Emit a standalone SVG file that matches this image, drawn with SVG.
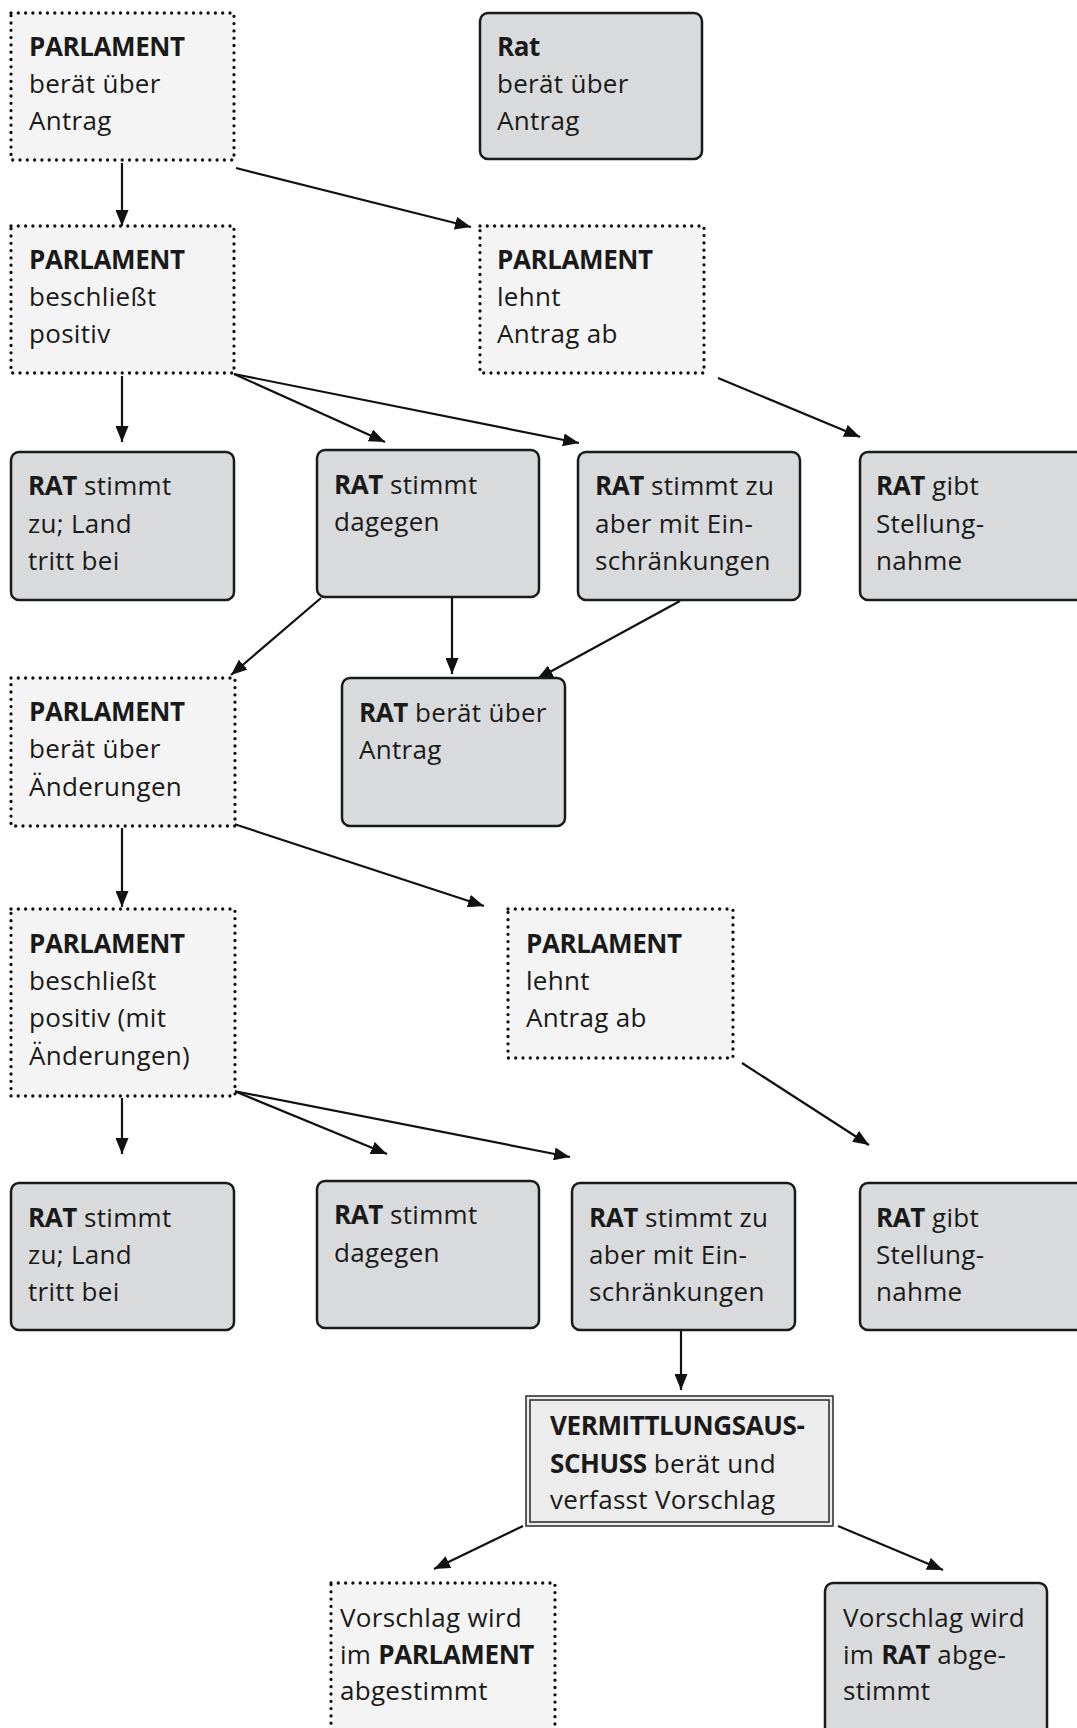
<svg xmlns="http://www.w3.org/2000/svg" width="1077" height="1728" viewBox="0 0 1077 1728">
<defs>
<style>
.t{font-family:"Open Sans","Noto Sans",sans-serif;font-size:26px;fill:#1a1a1a;letter-spacing:0.3px}
.b{font-weight:700;letter-spacing:-0.4px}
.dot{fill:#f4f4f4;stroke:#111;stroke-width:3.3;stroke-dasharray:0 7.3;stroke-linecap:round}
.rat{fill:#d9dadc;stroke:#1a1a1a;stroke-width:2.5}
.vo{fill:#ebeceb;stroke:#333;stroke-width:1.6}
.vi{fill:none;stroke:#333;stroke-width:1.6}
.c path{fill:none;stroke:#111;stroke-width:2.2;marker-end:url(#ah)}
</style>
<marker id="ah" markerUnits="userSpaceOnUse" markerWidth="16" markerHeight="13" refX="16" refY="6.5" orient="auto">
<path d="M0,0 L16,6.5 L0,13 z" fill="#111"/>
</marker>
</defs>
<rect width="1077" height="1728" fill="#fff"/>

<g class="c" id="connectors">
<path d="M122,163 L122,226"/>
<path d="M236,168 L471,227"/>
<path d="M122,376 L122,442"/>
<path d="M234,374 L385,442"/>
<path d="M234,374 L579,443"/>
<path d="M718,378 L860,437"/>
<path d="M321,598 L231,675"/>
<path d="M452,597 L452,674"/>
<path d="M680,601 L537,679"/>
<path d="M122,828 L122,907"/>
<path d="M234,824 L484,906"/>
<path d="M122,1098 L122,1154"/>
<path d="M234,1091 L387,1154"/>
<path d="M234,1091 L570,1157"/>
<path d="M742,1063 L869,1145"/>
<path d="M681,1331 L681,1390"/>
<path d="M523,1526 L434,1569"/>
<path d="M838,1526 L943,1570"/>
</g>

<g id="p1"><rect class="dot" x="11" y="13" width="223" height="147"/>
<text class="t" x="29" y="56"><tspan class="b">PARLAMENT</tspan></text>
<text class="t" x="29" y="93">berät über</text>
<text class="t" x="29" y="130">Antrag</text></g>

<g id="rat0"><rect class="rat" x="480" y="13" width="222" height="146" rx="8"/>
<text class="t" x="497" y="56"><tspan class="b">Rat</tspan></text>
<text class="t" x="497" y="93">berät über</text>
<text class="t" x="497" y="130">Antrag</text></g>

<g id="p2"><rect class="dot" x="11" y="226" width="223" height="147"/>
<text class="t" x="29" y="269"><tspan class="b">PARLAMENT</tspan></text>
<text class="t" x="29" y="306">beschließt</text>
<text class="t" x="29" y="343">positiv</text></g>

<g id="p3"><rect class="dot" x="480" y="226" width="224" height="147"/>
<text class="t" x="497" y="269"><tspan class="b">PARLAMENT</tspan></text>
<text class="t" x="497" y="306">lehnt</text>
<text class="t" x="497" y="343">Antrag ab</text></g>

<g id="r1"><rect class="rat" x="11" y="452" width="223" height="148" rx="8"/>
<text class="t" x="28" y="495"><tspan class="b">RAT</tspan> stimmt</text>
<text class="t" x="28" y="533">zu; Land</text>
<text class="t" x="28" y="570">tritt bei</text></g>

<g id="r2"><rect class="rat" x="317" y="450" width="222" height="147" rx="8"/>
<text class="t" x="334" y="494"><tspan class="b">RAT</tspan> stimmt</text>
<text class="t" x="334" y="531">dagegen</text></g>

<g id="r3"><rect class="rat" x="578" y="452" width="222" height="148" rx="8"/>
<text class="t" x="595" y="495"><tspan class="b">RAT</tspan> stimmt zu</text>
<text class="t" x="595" y="533">aber mit Ein-</text>
<text class="t" x="595" y="570">schränkungen</text></g>

<g id="r4"><rect class="rat" x="860" y="452" width="230" height="148" rx="8"/>
<text class="t" x="876" y="495"><tspan class="b">RAT</tspan> gibt</text>
<text class="t" x="876" y="533">Stellung-</text>
<text class="t" x="876" y="570">nahme</text></g>

<g id="p4"><rect class="dot" x="11" y="678" width="224" height="148"/>
<text class="t" x="29" y="721"><tspan class="b">PARLAMENT</tspan></text>
<text class="t" x="29" y="758">berät über</text>
<text class="t" x="29" y="796">Änderungen</text></g>

<g id="r5"><rect class="rat" x="342" y="678" width="223" height="148" rx="8"/>
<text class="t" x="359" y="722"><tspan class="b">RAT</tspan> berät über</text>
<text class="t" x="359" y="759">Antrag</text></g>

<g id="p5"><rect class="dot" x="11" y="909" width="224" height="187"/>
<text class="t" x="29" y="953"><tspan class="b">PARLAMENT</tspan></text>
<text class="t" x="29" y="990">beschließt</text>
<text class="t" x="29" y="1027">positiv (mit</text>
<text class="t" x="29" y="1065">Änderungen)</text></g>

<g id="p6"><rect class="dot" x="508" y="909" width="225" height="149"/>
<text class="t" x="526" y="953"><tspan class="b">PARLAMENT</tspan></text>
<text class="t" x="526" y="990">lehnt</text>
<text class="t" x="526" y="1027">Antrag ab</text></g>

<g id="r6"><rect class="rat" x="11" y="1183" width="223" height="147" rx="8"/>
<text class="t" x="28" y="1227"><tspan class="b">RAT</tspan> stimmt</text>
<text class="t" x="28" y="1264">zu; Land</text>
<text class="t" x="28" y="1301">tritt bei</text></g>

<g id="r7"><rect class="rat" x="317" y="1181" width="222" height="147" rx="8"/>
<text class="t" x="334" y="1224"><tspan class="b">RAT</tspan> stimmt</text>
<text class="t" x="334" y="1262">dagegen</text></g>

<g id="r8"><rect class="rat" x="572" y="1183" width="223" height="147" rx="8"/>
<text class="t" x="589" y="1227"><tspan class="b">RAT</tspan> stimmt zu</text>
<text class="t" x="589" y="1264">aber mit Ein-</text>
<text class="t" x="589" y="1301">schränkungen</text></g>

<g id="r9"><rect class="rat" x="860" y="1183" width="230" height="147" rx="8"/>
<text class="t" x="876" y="1227"><tspan class="b">RAT</tspan> gibt</text>
<text class="t" x="876" y="1264">Stellung-</text>
<text class="t" x="876" y="1301">nahme</text></g>

<g id="v"><rect class="vo" x="526" y="1396" width="307" height="130"/>
<rect class="vi" x="530" y="1400" width="299" height="122"/>
<text class="t" x="550" y="1435"><tspan class="b">VERMITTLUNGSAUS-</tspan></text>
<text class="t" x="550" y="1473"><tspan class="b">SCHUSS</tspan> berät und</text>
<text class="t" x="550" y="1509">verfasst Vorschlag</text></g>

<g id="p7"><rect class="dot" x="331" y="1583" width="224" height="160"/>
<text class="t" x="340" y="1627">Vorschlag wird</text>
<text class="t" x="340" y="1664">im <tspan class="b">PARLAMENT</tspan></text>
<text class="t" x="340" y="1700">abgestimmt</text></g>

<g id="r10"><rect class="rat" x="825" y="1583" width="222" height="160" rx="8"/>
<text class="t" x="843" y="1627">Vorschlag wird</text>
<text class="t" x="843" y="1664">im <tspan class="b">RAT</tspan> abge-</text>
<text class="t" x="843" y="1700">stimmt</text></g>
</svg>
